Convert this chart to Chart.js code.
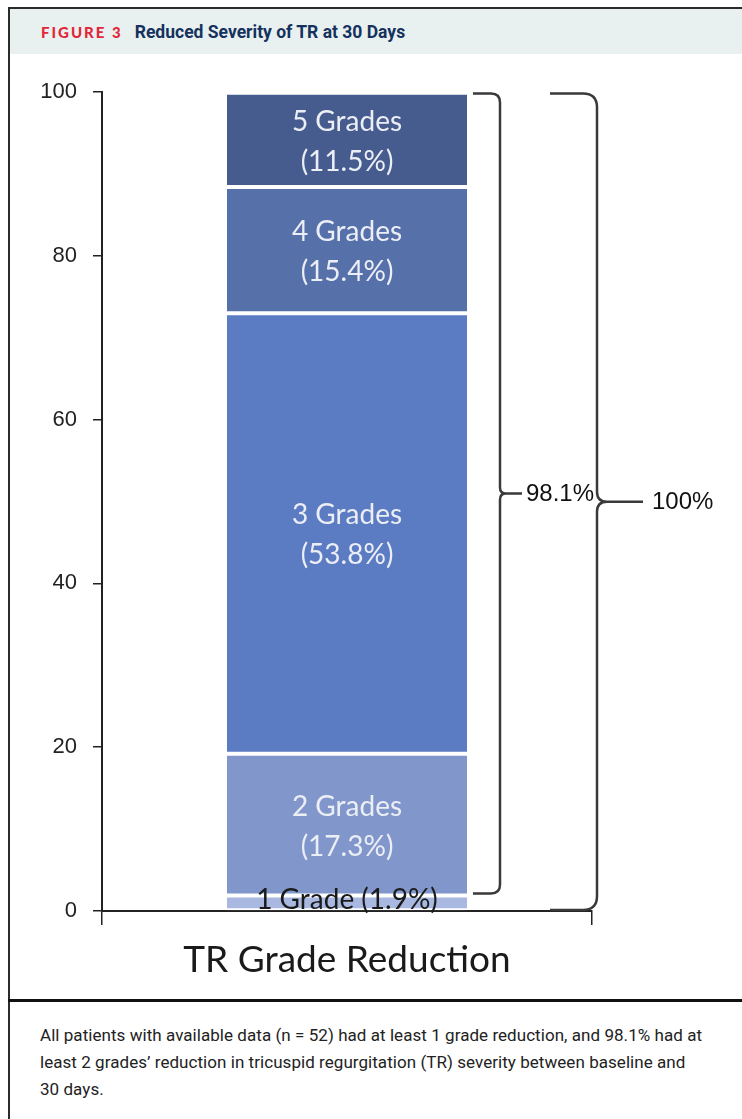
<!DOCTYPE html>
<html>
<head>
<meta charset="utf-8">
<script src="https://cdn.jsdelivr.net/npm/chart.js@4.4.1/dist/chart.umd.min.js"></script>
<style>
  html, body { margin: 0; padding: 0; background: #fff; }
  body { width: 742px; height: 1119px; position: relative; overflow: hidden; }
  .abs { position: absolute; }
  #topline { top: 7px; left: 8px; right: 0; height: 2px; background: #2b2b2b; }
  #leftline { top: 7px; left: 8px; bottom: 0; width: 2px; background: #2b2b2b; }
  #band { top: 9px; left: 10px; right: 0; height: 45px; background: #e9f1f0; }
  #title { top: 22px; left: 41px; white-space: nowrap; font-family: Roboto, sans-serif; font-weight: bold; }
  #fig { color: #e2263a; font-size: 15px; letter-spacing: 2px; margin-right: 12px; font-family: Lato, sans-serif; font-weight: 900; }
  #ttl { color: #15325f; font-size: 17.5px; letter-spacing: 0px; }
  #sep { top: 999px; left: 8px; right: 0; height: 3px; background: #111; }
  #caption { top: 1022px; left: 40px; font-family: Roboto, sans-serif; font-size: 17px; line-height: 27px; letter-spacing: 0.05px; color: #222; white-space: nowrap; }
  #wrap { top: 56px; left: 9px; width: 733px; height: 942px; }
</style>
</head>
<body>
<div class="abs" id="band"></div>
<div class="abs" id="topline"></div>
<div class="abs" id="leftline"></div>
<div class="abs" id="title"><span id="fig">FIGURE 3</span><span id="ttl">Reduced Severity of TR at 30 Days</span></div>
<div class="abs" id="wrap"><canvas id="c"></canvas></div>
<div class="abs" id="sep"></div>
<div class="abs" id="caption">All patients with available data (n = 52) had at least 1 grade reduction, and 98.1% had at<br>least 2 grades’ reduction in tricuspid regurgitation (TR) severity between baseline and<br>30 days.</div>
<script>
const categories = ['TR Grade Reduction'];
const gradeNames = ['1 Grade', '2 Grades', '3 Grades', '4 Grades', '5 Grades'];
const gradeValues = [1.9, 17.3, 53.8, 15.4, 11.5];
const yTickValues = [0, 20, 40, 60, 80, 100];
const braceLabels = ['98.1%', '100%'];
const braceFrom = [1.9, 0];
const braceTo = [100, 100];

const gradeColors = ['#a9b8e0', '#8197cb', '#5b7bc3', '#5670aa', '#475c8e'];

const datasets = gradeNames.map((name, i) => ({
  label: name,
  data: [gradeValues[i]],
  backgroundColor: gradeColors[i],
  borderColor: '#ffffff',
  borderWidth: { top: 2, bottom: 2, left: 0, right: 0 },
  borderSkipped: false,
  categoryPercentage: 1,
  barPercentage: 0.49
}));

const labelPlugin = {
  id: 'segLabels',
  afterDatasetsDraw(chart) {
    const ctx = chart.ctx;
    ctx.save();
    ctx.textAlign = 'center';
    ctx.textBaseline = 'middle';
    ctx.font = '28px Lato, sans-serif';
    chart.data.datasets.forEach((ds, i) => {
      const bar = chart.getDatasetMeta(i).data[0];
      const p = bar.getProps(['x', 'y', 'base'], true);
      const cy = (p.y + p.base) / 2;
      const v = ds.data[0];
      if (i === 0) {
        ctx.fillStyle = '#1a1a1a';
        ctx.fillText(gradeNames[i] + ' (' + v + '%)', p.x, cy - 3);
      } else {
        ctx.fillStyle = '#eceef5';
        ctx.fillText(gradeNames[i], p.x, cy - 18);
        ctx.fillText('(' + v + '%)', p.x, cy + 22);
      }
    });
    ctx.restore();
  }
};

function drawBrace(ctx, x0, xv, xTip, yTop, yBot, r, rm) {
  const yMid = (yTop + yBot) / 2;
  ctx.beginPath();
  ctx.moveTo(x0, yTop);
  ctx.lineTo(xv - r, yTop);
  ctx.quadraticCurveTo(xv, yTop, xv, yTop + r);
  ctx.lineTo(xv, yMid - rm);
  ctx.quadraticCurveTo(xv, yMid, xv + rm, yMid);
  ctx.lineTo(xTip, yMid);
  ctx.moveTo(x0, yBot);
  ctx.lineTo(xv - r, yBot);
  ctx.quadraticCurveTo(xv, yBot, xv, yBot - r);
  ctx.lineTo(xv, yMid + rm);
  ctx.quadraticCurveTo(xv, yMid, xv + rm, yMid);
  ctx.stroke();
  return yMid;
}

const bracePlugin = {
  id: 'braces',
  afterDraw(chart) {
    const ctx = chart.ctx;
    const ys = chart.scales.y;
    const R = chart.chartArea.right;
    const geo = [
      { x0: R - 119, xv: R - 92, tip: R - 70, lab: R - 66, r: 9, rm: 6, dTop: 1.5, dBot: -2 },
      { x0: R - 42, xv: R + 5, tip: R + 51, lab: R + 60, r: 14, rm: 10, dTop: 1.5, dBot: -1 }
    ];
    ctx.save();
    ctx.strokeStyle = '#3a3a3a';
    ctx.lineWidth = 2.5;
    ctx.fillStyle = '#111';
    ctx.font = '24px "Liberation Sans", Arial, sans-serif';
    ctx.textAlign = 'left';
    ctx.textBaseline = 'middle';
    braceLabels.forEach((lab, i) => {
      const g = geo[i];
      const yTop = ys.getPixelForValue(braceTo[i]) + g.dTop;
      const yBot = ys.getPixelForValue(braceFrom[i]) + g.dBot;
      const yMid = drawBrace(ctx, g.x0, g.xv, g.tip, yTop, yBot, g.r, g.rm);
      ctx.fillText(lab, g.lab, yMid + 1);
    });
    ctx.restore();
  }
};

new Chart(document.getElementById('c'), {
  type: 'bar',
  data: { labels: categories, datasets: datasets },
  options: {
    responsive: true,
    maintainAspectRatio: false,
    animation: false,
    devicePixelRatio: 1,
    layout: { padding: { top: 36, right: 150, bottom: 0, left: 0 } },
    plugins: { legend: { display: false }, tooltip: { enabled: false } },
    scales: {
      x: {
        stacked: true,
        offset: true,
        grid: { display: true, drawOnChartArea: false, drawTicks: true, tickLength: 14, color: '#222', lineWidth: 1.5, offset: true },
        border: { display: true, color: '#222', width: 2 },
        ticks: { color: '#1a1a1a', font: { family: 'Lato', size: 37 }, padding: 13, maxRotation: 0 },
        afterFit(axis) { axis.height = 87; axis.paddingLeft = 0; axis.paddingRight = 0; }
      },
      y: {
        stacked: true,
        min: 0,
        max: 100,
        afterBuildTicks(axis) { axis.ticks = yTickValues.map(v => ({ value: v })); },
        grid: { display: true, drawOnChartArea: false, drawTicks: true, tickLength: 9, color: '#222', lineWidth: 1.5 },
        border: { display: true, color: '#222', width: 2 },
        ticks: { color: '#222', font: { family: '"Liberation Sans"', size: 22 }, padding: 16 },
        afterFit(axis) { axis.width = 93; axis.paddingTop = 0; axis.paddingBottom = 0; }
      }
    }
  },
  plugins: [labelPlugin, bracePlugin]
});
</script>
</body>
</html>
